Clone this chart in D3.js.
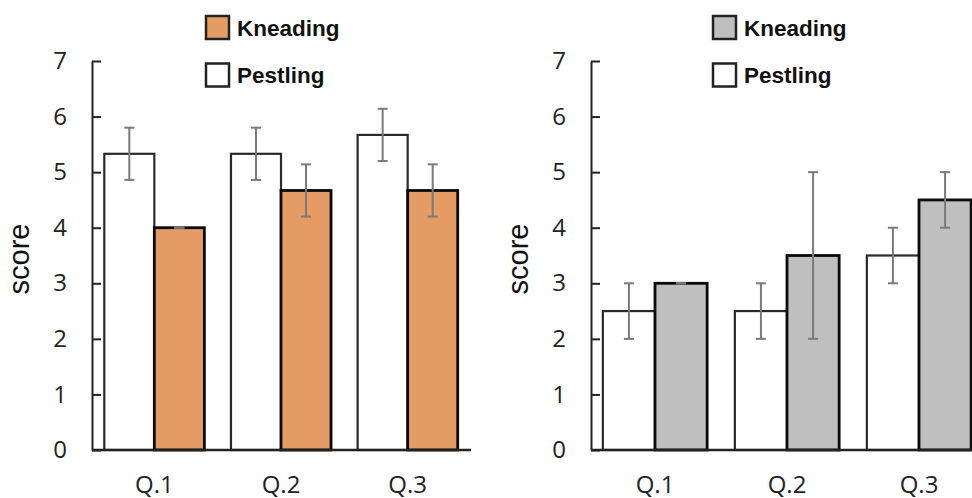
<!DOCTYPE html>
<html>
<head>
<meta charset="utf-8">
<script src="https://cdn.jsdelivr.net/npm/d3@7"></script>
<style>
  html, body { margin: 0; padding: 0; background: #fff; }
  svg { display: block; }
</style>
</head>
<body>
<div id="chart"></div>
<script>
// Categories and ticks
const categories = ['Q.1', 'Q.2', 'Q.3'];
const seriesNames = ['Pestling', 'Kneading'];
const yTicks = [0, 1, 2, 3, 4, 5, 6, 7];

// Left panel values (mean, error)
const leftPestling = [5.33, 5.33, 5.67];
const leftPestlingErr = [0.47, 0.47, 0.47];
const leftKneading = [4.0, 4.67, 4.67];
const leftKneadingErr = [0, 0.47, 0.47];

// Right panel values (mean, error)
const rightPestling = [2.5, 2.5, 3.5];
const rightPestlingErr = [0.5, 0.5, 0.5];
const rightKneading = [3.0, 3.5, 4.5];
const rightKneadingErr = [0, 1.5, 0.5];

const width = 972;
const height = 498;

const svg = d3.select('#chart')
  .append('svg')
  .attr('width', width)
  .attr('height', height);

const y = d3.scaleLinear().domain([0, 7]).range([450, 61]);

/**
 * Draw one panel
 * @param {*} opts panel layout and data
 */
function drawPanel(opts) {
  const g = svg.append('g');

  // Group scale and bar scale
  const x0 = d3.scaleBand()
    .domain(categories)
    .range(opts.range)
    .paddingInner(0.21)
    .paddingOuter(0.105);
  const x1 = d3.scaleBand()
    .domain(seriesNames)
    .range([0, x0.bandwidth()]);

  const rows = categories.map((c, i) => ({
    cat: c,
    bars: [
      { name: 'Pestling', v: opts.pestling[i], e: opts.pestlingErr[i], fill: '#ffffff' },
      { name: 'Kneading', v: opts.kneading[i], e: opts.kneadingErr[i], fill: opts.colour },
    ],
  }));

  // y axis
  g.append('g')
    .attr('transform', `translate(${opts.axisX},0)`)
    .call(d3.axisLeft(y).tickValues(yTicks).tickFormat(d3.format('d'))
      .tickSizeInner(-9).tickSizeOuter(0).tickPadding(25))
    .call(a => a.selectAll('path, line').attr('stroke', '#222').attr('stroke-width', 2))
    .call(a => a.selectAll('text')
      .attr('fill', '#222')
      .style('font-family', '"Open Sans", sans-serif')
      .style('font-size', '24px'));

  // Bars
  const groups = g.selectAll('.grp')
    .data(rows)
    .enter().append('g')
    .attr('class', 'grp')
    .attr('transform', d => `translate(${x0(d.cat)},0)`);

  groups.selectAll('rect')
    .data(d => d.bars)
    .enter().append('rect')
    .attr('x', d => x1(d.name))
    .attr('y', d => y(d.v))
    .attr('width', x1.bandwidth())
    .attr('height', d => y(0) - y(d.v))
    .attr('fill', d => d.fill)
    .attr('stroke', d => (d.name === 'Kneading' ? '#0a0a0a' : '#2a2a2a'))
    .attr('stroke-width', d => (d.name === 'Kneading' ? 2.8 : 2.2));

  // Error bars
  const errs = groups.selectAll('.err')
    .data(d => d.bars)
    .enter().append('g')
    .attr('class', 'err')
    .attr('transform', d => `translate(${x1(d.name) + x1.bandwidth() / 2},0)`)
    .attr('stroke', '#7a7a7a')
    .attr('stroke-width', 2);
  errs.append('line')
    .attr('y1', d => y(d.v - d.e)).attr('y2', d => y(d.v + d.e));
  errs.append('line')
    .attr('x1', -5).attr('x2', 5)
    .attr('y1', d => y(d.v + d.e)).attr('y2', d => y(d.v + d.e));
  errs.append('line')
    .attr('x1', -5).attr('x2', 5)
    .attr('y1', d => y(d.v - d.e)).attr('y2', d => y(d.v - d.e));

  // x axis
  g.append('g')
    .attr('transform', `translate(0,${y(0)})`)
    .call(d3.axisBottom(x0).tickSize(0).tickPadding(26))
    .call(a => a.select('.domain')
      .attr('d', `M${opts.axisX},0H${opts.range[1]}`)
      .attr('stroke', '#222').attr('stroke-width', 2.5))
    .call(a => a.selectAll('text')
      .attr('fill', '#222')
      .style('font-family', '"Open Sans", sans-serif')
      .style('font-size', '24px'));

  // y label
  g.append('text')
    .attr('transform', `translate(${opts.axisX - 73},259)rotate(-90)`)
    .attr('text-anchor', 'middle')
    .attr('dy', '0.35em')
    .style('font-family', '"Liberation Sans", Arial, sans-serif')
    .style('font-size', '29px')
    .attr('fill', '#111')
    .text('score');

  // Legend
  const legend = g.selectAll('.leg')
    .data([{ name: 'Kneading', fill: opts.colour, cy: 27.5 }, { name: 'Pestling', fill: '#fff', cy: 75 }])
    .enter().append('g')
    .attr('class', 'leg')
    .attr('transform', d => `translate(${opts.legendX},${d.cy})`);
  legend.append('rect')
    .attr('x', 0).attr('y', -11.5)
    .attr('width', 23).attr('height', 23)
    .attr('fill', d => d.fill)
    .attr('stroke', '#222')
    .attr('stroke-width', 2.5);
  legend.append('text')
    .attr('x', 31)
    .attr('dy', '0.36em')
    .style('font-family', '"Liberation Sans", Arial, sans-serif')
    .style('font-weight', 'bold')
    .style('font-size', '22.5px')
    .attr('fill', '#111')
    .text(d => d.name);
}

drawPanel({
  axisX: 92,
  range: [91, 471],
  legendX: 206,
  colour: '#e49b64',
  pestling: leftPestling,
  pestlingErr: leftPestlingErr,
  kneading: leftKneading,
  kneadingErr: leftKneadingErr,
});

drawPanel({
  axisX: 591,
  range: [589, 985],
  legendX: 713,
  colour: '#bfbfbf',
  pestling: rightPestling,
  pestlingErr: rightPestlingErr,
  kneading: rightKneading,
  kneadingErr: rightKneadingErr,
});
</script>
</body>
</html>
